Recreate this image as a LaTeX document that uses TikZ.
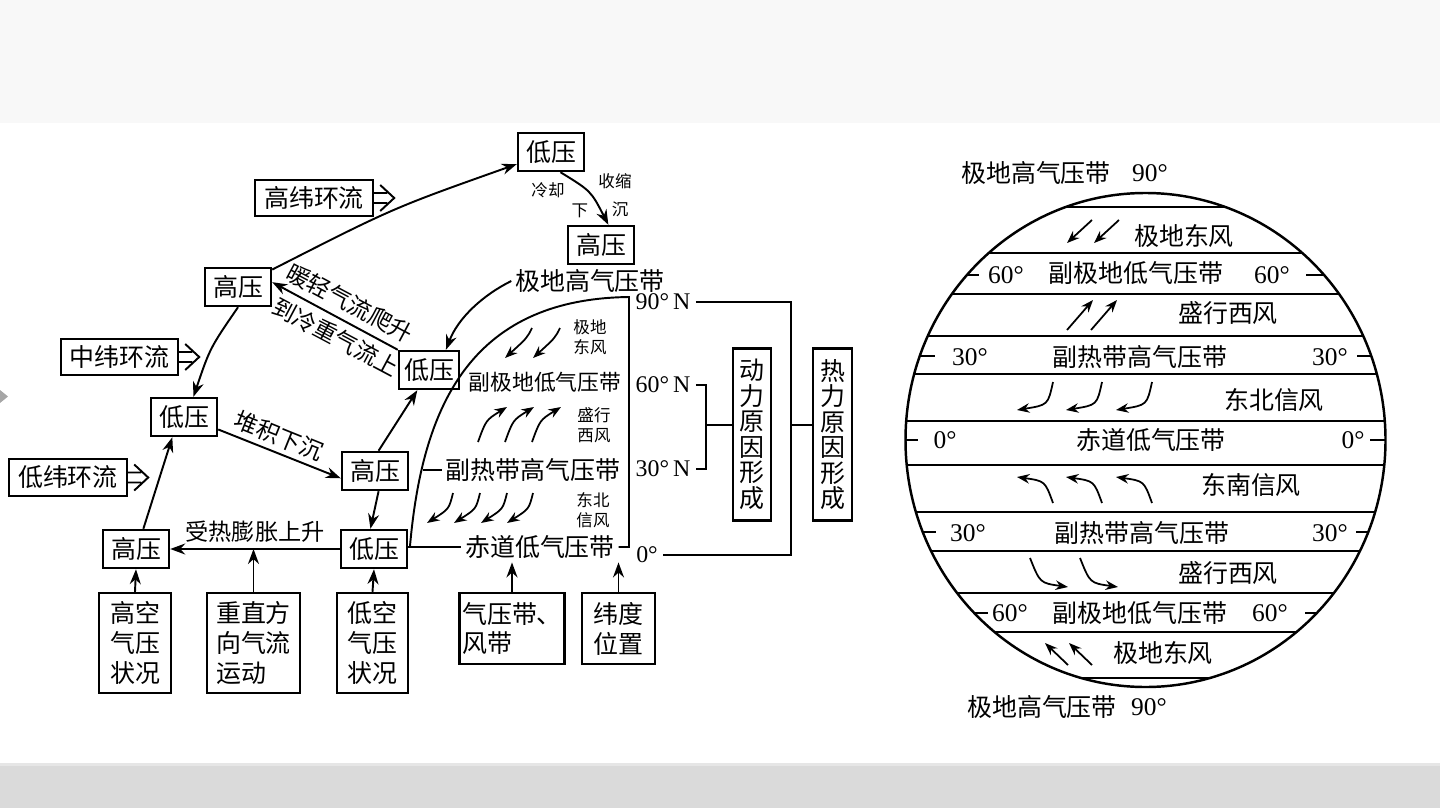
\documentclass[tikz,border=0pt]{standalone}
\usepackage{fontspec}
\setmainfont{Liberation Serif}
\newfontfamily\cjk{Noto Sans CJK SC}
\usetikzlibrary{arrows.meta}
\definecolor{topgray}{HTML}{F8F8F8}
\definecolor{footgray}{HTML}{DADADA}
\definecolor{footline}{HTML}{E6E6E6}
\definecolor{markgray}{HTML}{A6A6A6}

\begin{document}
\begin{tikzpicture}[x = 0.02cm, y = -0.02cm,
        edgeline/.style = {line width = 1.1pt},
        flow/.style = {edgeline, -{Stealth[length = 3mm, width = 2.2mm]}},
        wind/.style = {line width = 1pt, -{Stealth[length = 2.5mm, width = 1.9mm]}},
        labelbox/.style = {draw, line width = 1.4pt, inner sep = 0pt, font = \cjk\fontsize{14.2}{17}\selectfont},
        pressbox/.style = {labelbox, minimum width = 1.32cm, minimum height = 0.76cm},
        sidebox/.style = {labelbox, align = center, font = \cjk\fontsize{14.2}{14.5}\selectfont, minimum width = 0.77cm, minimum height = 3.44cm},
        band/.style = {font = \cjk\fontsize{14.2}{17}\selectfont, inner sep = 2pt},
        slant/.style = {font = \cjk\fontsize{13.2}{16}\selectfont, inner sep = 0pt},
        note/.style = {font = \cjk\fontsize{9.4}{11.3}\selectfont, align = center, inner sep = 0pt},
        lat/.style = {font = \fontsize{13.6}{16}\selectfont, inner xsep = 3pt, inner ysep = 0pt},
        deg/.style = {font = \fontsize{14.5}{17}\selectfont, inner sep = 0pt}]

        \fill [topgray] (0, 0) rectangle (1440, 123);
        \fill [footgray] (0, 763) rectangle (1440, 808);
        \fill [footline] (0, 763) rectangle (1440, 766);
        \fill [markgray] (0, 390) -- (8, 396.5) -- (0, 403) -- cycle;
        \useasboundingbox (0, 0) rectangle (1440, 808);

        \node [pressbox] (lowtop) at (551, 152) {低压};
        \node [pressbox] (hightop) at (601, 245) {高压};
        \node [pressbox] (highul) at (238, 287) {高压};
        \node [pressbox, minimum width = 1.2cm] (lowmr) at (429, 370) {低压};
        \node [pressbox] (lowl) at (184, 417) {低压};
        \node [pressbox] (highc) at (375, 471) {高压};
        \node [pressbox] (highbl) at (136, 549) {高压};
        \node [pressbox] (lowb) at (374, 549) {低压};

        \node [labelbox, minimum width = 2.36cm, minimum height = 0.72cm] (highlat) at (314, 198) {高纬环流};
        \node [labelbox, minimum width = 2.34cm, minimum height = 0.72cm] (midlat) at (119.5, 357) {中纬环流};
        \node [labelbox, minimum width = 2.36cm, minimum height = 0.74cm] (lowlat) at (68, 477.5) {低纬环流};
        \foreach \n in {highlat, midlat, lowlat}
        \draw [edgeline] (\n.east) ++(0, -5) -- ++(13, 0) (\n.east) ++(0, 5) -- ++(13, 0)
            (\n.east) ++(6, -13) -- ++(14, 13) -- ++(-14, 13);

        \node [labelbox, align = left, minimum width = 1.44cm, minimum height = 2cm] (hiair) at (135, 643) {高空\\气压\\状况};
        \node [labelbox, align = left, minimum width = 1.86cm, minimum height = 2cm] (vertflow) at (253.5, 643) {重直方\\向气流\\运动};
        \node [labelbox, align = left, minimum width = 1.42cm, minimum height = 2cm] (loair) at (372.5, 643) {低空\\气压\\状况};
        \node [labelbox, align = left, minimum width = 2.1cm, minimum height = 1.42cm] (beltbox) at (512, 628.5) {气压带、\\风带};
        \node [labelbox, align = center, minimum width = 1.46cm, minimum height = 1.42cm] (latbox) at (618.5, 628.5) {纬度\\位置};

        \node [sidebox] (dyn) at (752, 434.5) {动\\力\\原\\因\\形\\成};
        \node [sidebox] (therm) at (832.5, 434.5) {热\\力\\原\\因\\形\\成};

        \node [band] (polarhigh) at (590, 281) {极地高气压带};
        \node [band, font = \cjk\fontsize{12.4}{15}\selectfont] (subpolar) at (545, 382) {副极地低气压带};
        \node [band] (subtrop) at (533, 470) {副热带高气压带};
        \node [band] (equator) at (540, 547) {赤道低气压带};

        \node [note] (polarwind) at (590, 337) {极地\\东风};
        \node [note] (westwind) at (594, 425) {盛行\\西风};
        \node [note] (tradewind) at (593, 510) {东北\\信风};
        \node [note] (cool) at (548, 190) {冷却};
        \node [note] (shrink) at (615, 181) {收缩};
        \node [note] (down) at (580, 211) {下};
        \node [note] (sink) at (620, 209) {沉};

        \node [lat] (n90) at (663, 302) {90°\,N};
        \node [lat] (n60) at (663, 385) {60°\,N};
        \node [lat] (n30) at (663, 469) {30°\,N};
        \node [lat] (n0) at (647, 555) {0°};

        \coordinate (eqleft) at (410, 546);
        \coordinate (pole) at (629, 297);
        \coordinate (tropedge) at (423, 470);
        \coordinate (dynbranch) at (706, 425);
        \coordinate (thermbranch) at (791, 425);

        \draw [edgeline] (eqleft) .. controls (422, 410) and (468, 299) .. (pole) -- (pole |- equator.east) -- (equator.east);
        \draw [edgeline] (lowb.east |- equator.west) -- (equator.west);
        \draw [edgeline] (tropedge) -- (subtrop.west);
        \draw [edgeline] (n60.east) -| (dynbranch |- n30.east) -- (n30.east);
        \draw [edgeline] (dynbranch) -- (dynbranch -| dyn.west);
        \draw [edgeline] (n90.east) -| (thermbranch |- n0.east) -- (n0.east);
        \draw [edgeline] (thermbranch) -- (thermbranch -| therm.west);

        \draw [flow] (highul) .. controls (393, 208) .. (lowtop);
        \draw [flow] (lowtop.-65) .. controls (591, 191) .. (hightop.70);
        \draw [flow] (polarhigh.west) .. controls (483, 295) and (458, 318) .. (lowmr.50);
        \draw [flow] (highul.south) .. controls (210, 348) .. (lowl.65);
        \draw [flow] (lowmr.north west) -- (highul.8);
        \draw [flow] (lowl.-20) -- (highc.-168);
        \draw [flow] (highc.80) -- (lowmr.-120);
        \draw [flow] (highc.-80) -- (lowb.100);
        \draw [flow] (lowb.west) -- node [slant, above = 3pt] (heatlbl) {受热膨胀上升} (highbl.east);
        \draw [flow] (highbl.70) -- (lowl.-120);
        \draw [flow] (hiair.north) -- (highbl.south);
        \draw [flow] (vertflow.north) -- (vertflow.north |- lowb.west);
        \draw [flow] (loair.north) -- (lowb.south);
        \draw [flow] (beltbox.north) -- (beltbox.north |- equator.south);
        \draw [flow] (latbox.north) -- (latbox.north |- equator.south);

        \node [slant, rotate = -28] (warmlbl) at (350, 303) {暖轻气流爬升};
        \node [slant, rotate = -28] (coldlbl) at (336, 337) {到冷重气流上};
        \node [slant, rotate = -22] (pilelbl) at (279, 436) {堆积下沉};

        \foreach \x in {0, 28}
        \draw [wind] (532 + \x, 328) .. controls (527 + \x, 338) .. (505 + \x, 358);
        \foreach \x in {0, 27, 54}
        \draw [wind] (478 + \x, 442) .. controls (486 + \x, 420) .. (507 + \x, 407);
        \foreach \x in {0, 27, 54, 80}
        \draw [wind] (453 + \x, 493) .. controls (449 + \x, 509) .. (427 + \x, 523);

        \draw [line width = 1.4pt] (1145.5, 440) ellipse [x radius = 240, y radius = 247];
        \begin{scope}
        \clip (1145.5, 440) ellipse [x radius = 240, y radius = 247];
        \foreach \y in {207, 253, 294, 336, 374, 421, 465, 512, 551, 593, 632, 678}
        \draw [edgeline] (900, \y) -- (1400, \y);
        \foreach \y/\l/\r in {275/979/1306, 356/935/1357, 440/918/1370, 532/936/1356, 613/988/1305}
        \draw [edgeline] (890, \y) -- (\l, \y) (\r, \y) -- (1400, \y);
        \end{scope}

        \foreach \x/\y/\t [count = \i] in {1006/275/60°, 1272/275/60°, 970/357/30°, 1330/357/30°, 945/440/0°,
            1353/440/0°, 968/533/30°, 1330/533/30°, 1010/613/60°, 1270/613/60°}
        \node [deg] (deg\i) at (\x, \y) {\t};

        \node [band] (cpolartop) at (1036, 173) {极地高气压带};
        \node [deg] (c90top) at (1150, 173) {90°};
        \node [band] (cpolarbot) at (1042, 707) {极地高气压带};
        \node [deg] (c90bot) at (1149, 707) {90°};

        \node [band] (ceastu) at (1184, 236) {极地东风};
        \node [band] (csubpolu) at (1136, 273) {副极地低气压带};
        \node [band] (cwestu) at (1228, 313) {盛行西风};
        \node [band] (csubtropu) at (1140, 357) {副热带高气压带};
        \node [band] (cnetrade) at (1274, 400) {东北信风};
        \node [band] (cequator) at (1151, 440) {赤道低气压带};
        \node [band] (csetrade) at (1251, 485) {东南信风};
        \node [band] (csubtropl) at (1142, 533) {副热带高气压带};
        \node [band] (cwestl) at (1228, 573) {盛行西风};
        \node [band] (csubpoll) at (1140, 613) {副极地低气压带};
        \node [band] (ceastl) at (1163, 653) {极地东风};

        \foreach \x in {0, 27}
        \draw [wind] (1092 + \x, 220) -- (1067 + \x, 243);
        \foreach \x in {0, 24}
        \draw [wind] (1067 + \x, 330) -- (1093 + \x, 300);
        \foreach \x in {0, 49, 99}
        \draw [wind] (1053 + \x, 382) .. controls (1048 + \x, 405) .. (1017 + \x, 410);
        \foreach \x in {0, 49, 99}
        \draw [wind] (1053 + \x, 503) .. controls (1045 + \x, 481) .. (1017 + \x, 477);
        \foreach \x in {0, 50}
        \draw [wind] (1030 + \x, 558) .. controls (1040 + \x, 583) .. (1068 + \x, 587);
        \foreach \x in {0, 24}
        \draw [wind] (1068 + \x, 665) -- (1045 + \x, 643);
    \end{tikzpicture}
\end{document}
